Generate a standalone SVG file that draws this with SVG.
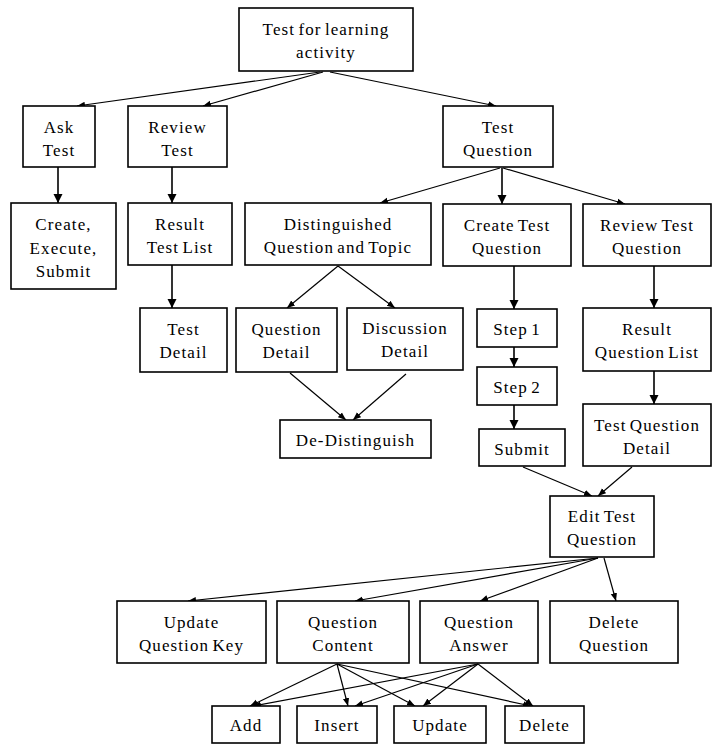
<svg xmlns="http://www.w3.org/2000/svg" width="713" height="744" viewBox="0 0 713 744">
  <style>
    .box rect { fill: #ffffff; stroke: #000000; stroke-width: 1.6; }
    .box text { font-family: "Liberation Serif", "Times New Roman", serif; font-size: 17px; letter-spacing: 1.1px; word-spacing: -2px; fill: #000000; text-anchor: middle; }
    #connectors line { stroke: #000000; stroke-width: 1.2; fill: none; marker-end: url(#arrow); }
    #connectors line.v { stroke-width: 1.6; marker-end: url(#arrowBig); }
  </style>
  <defs>
    <marker id="arrow" markerUnits="userSpaceOnUse" markerWidth="9" markerHeight="8" refX="8" refY="4" orient="auto">
      <path d="M0,0.8 L8,4 L0,7.2 Z" fill="#000000"/>
    </marker>
    <marker id="arrowBig" markerUnits="userSpaceOnUse" markerWidth="10" markerHeight="10" refX="9" refY="5" orient="auto">
      <path d="M0,0.5 L9,5 L0,9.5 Z" fill="#000000"/>
    </marker>
  </defs>
  <rect width="713" height="744" fill="#ffffff"/>

  <!-- connectors -->
  <g id="connectors">
    <line x1="320" y1="72" x2="77" y2="106"/>
    <line x1="323" y1="72" x2="203" y2="106"/>
    <line x1="330" y1="72" x2="496" y2="106"/>
    <line class="v" x1="58" y1="167" x2="58" y2="203"/>
    <line class="v" x1="172" y1="167" x2="172" y2="203"/>
    <line class="v" x1="172" y1="265" x2="172" y2="308"/>
    <line x1="500" y1="168" x2="380" y2="203"/>
    <line class="v" x1="502" y1="168" x2="502" y2="204"/>
    <line x1="503" y1="168" x2="625" y2="204"/>
    <line x1="338" y1="266" x2="287" y2="308"/>
    <line x1="338" y1="266" x2="395" y2="308"/>
    <line x1="290" y1="373" x2="346" y2="420"/>
    <line x1="406" y1="374" x2="353" y2="420"/>
    <line class="v" x1="514" y1="266" x2="514" y2="309"/>
    <line class="v" x1="514" y1="347" x2="514" y2="367"/>
    <line class="v" x1="514" y1="405" x2="514" y2="429"/>
    <line class="v" x1="654" y1="266" x2="654" y2="308"/>
    <line class="v" x1="654" y1="371" x2="654" y2="404"/>
    <line x1="523" y1="467" x2="592" y2="496"/>
    <line x1="632" y1="467" x2="598" y2="496"/>
    <line x1="598" y1="558" x2="188" y2="601"/>
    <line x1="598" y1="558" x2="355" y2="601"/>
    <line x1="598" y1="558" x2="480" y2="601"/>
    <line x1="604" y1="558" x2="616" y2="601"/>
    <line x1="337" y1="664" x2="250" y2="706"/>
    <line x1="337" y1="664" x2="348" y2="706"/>
    <line x1="337" y1="664" x2="415" y2="706"/>
    <line x1="337" y1="664" x2="531" y2="706"/>
    <line x1="478" y1="664" x2="253" y2="706"/>
    <line x1="478" y1="664" x2="355" y2="706"/>
    <line x1="478" y1="664" x2="423" y2="706"/>
    <line x1="478" y1="664" x2="533" y2="706"/>
  </g>

  <!-- nodes -->
  <g id="test-for-learning" class="box">
    <rect x="239" y="8" width="174" height="63"/>
    <text x="326" y="35">Test for learning</text>
    <text x="326" y="58">activity</text>
  </g>
  <g id="ask-test" class="box">
    <rect x="23" y="106" width="72" height="61"/>
    <text x="59" y="133">Ask</text>
    <text x="59" y="156">Test</text>
  </g>
  <g id="review-test" class="box">
    <rect x="128" y="106" width="99" height="61"/>
    <text x="177.5" y="133">Review</text>
    <text x="177.5" y="156">Test</text>
  </g>
  <g id="test-question" class="box">
    <rect x="443" y="106" width="110" height="61"/>
    <text x="498" y="133">Test</text>
    <text x="498" y="156">Question</text>
  </g>
  <g id="create-execute-submit" class="box">
    <rect x="11" y="203" width="105" height="86"/>
    <text x="63.5" y="230">Create,</text>
    <text x="63.5" y="253.5">Execute,</text>
    <text x="63.5" y="277">Submit</text>
  </g>
  <g id="result-test-list" class="box">
    <rect x="128" y="203" width="104" height="62"/>
    <text x="180" y="230">Result</text>
    <text x="180" y="253">Test List</text>
  </g>
  <g id="test-detail" class="box">
    <rect x="140" y="308" width="87" height="64"/>
    <text x="183.5" y="335">Test</text>
    <text x="183.5" y="358">Detail</text>
  </g>
  <g id="distinguished" class="box">
    <rect x="245" y="203" width="186" height="62"/>
    <text x="338" y="230">Distinguished</text>
    <text x="338" y="253">Question and Topic</text>
  </g>
  <g id="create-test-question" class="box">
    <rect x="443" y="204" width="128" height="62"/>
    <text x="507" y="231">Create Test</text>
    <text x="507" y="254">Question</text>
  </g>
  <g id="review-test-question" class="box">
    <rect x="583" y="204" width="128" height="62"/>
    <text x="647" y="231">Review Test</text>
    <text x="647" y="254">Question</text>
  </g>
  <g id="question-detail" class="box">
    <rect x="236" y="308" width="101" height="64"/>
    <text x="286.5" y="335">Question</text>
    <text x="286.5" y="358">Detail</text>
  </g>
  <g id="discussion-detail" class="box">
    <rect x="347" y="308" width="116" height="62"/>
    <text x="405" y="334">Discussion</text>
    <text x="405" y="357">Detail</text>
  </g>
  <g id="de-distinguish" class="box">
    <rect x="280" y="420" width="151" height="38"/>
    <text x="355.5" y="446">De-Distinguish</text>
  </g>
  <g id="step-1" class="box">
    <rect x="477" y="309" width="80" height="38"/>
    <text x="517" y="335">Step 1</text>
  </g>
  <g id="step-2" class="box">
    <rect x="477" y="367" width="80" height="38"/>
    <text x="517" y="393">Step 2</text>
  </g>
  <g id="submit" class="box">
    <rect x="479" y="429" width="86" height="37"/>
    <text x="522" y="455">Submit</text>
  </g>
  <g id="result-question-list" class="box">
    <rect x="583" y="308" width="128" height="63"/>
    <text x="647" y="335">Result</text>
    <text x="647" y="358">Question List</text>
  </g>
  <g id="test-question-detail" class="box">
    <rect x="583" y="404" width="128" height="62"/>
    <text x="647" y="431">Test Question</text>
    <text x="647" y="454">Detail</text>
  </g>
  <g id="edit-test-question" class="box">
    <rect x="550" y="496" width="104" height="61"/>
    <text x="602" y="522">Edit Test</text>
    <text x="602" y="545">Question</text>
  </g>
  <g id="update-question-key" class="box">
    <rect x="117" y="601" width="149" height="62"/>
    <text x="191.5" y="628">Update</text>
    <text x="191.5" y="651">Question Key</text>
  </g>
  <g id="question-content" class="box">
    <rect x="277" y="601" width="132" height="62"/>
    <text x="343" y="628">Question</text>
    <text x="343" y="651">Content</text>
  </g>
  <g id="question-answer" class="box">
    <rect x="420" y="601" width="118" height="62"/>
    <text x="479" y="628">Question</text>
    <text x="479" y="651">Answer</text>
  </g>
  <g id="delete-question" class="box">
    <rect x="550" y="601" width="128" height="62"/>
    <text x="614" y="628">Delete</text>
    <text x="614" y="651">Question</text>
  </g>
  <g id="add" class="box">
    <rect x="212" y="706" width="68" height="37"/>
    <text x="246" y="731">Add</text>
  </g>
  <g id="insert" class="box">
    <rect x="297" y="706" width="80" height="37"/>
    <text x="337" y="731">Insert</text>
  </g>
  <g id="update" class="box">
    <rect x="394" y="706" width="92" height="37"/>
    <text x="440" y="731">Update</text>
  </g>
  <g id="delete" class="box">
    <rect x="505" y="706" width="79" height="37"/>
    <text x="544.5" y="731">Delete</text>
  </g>
</svg>
